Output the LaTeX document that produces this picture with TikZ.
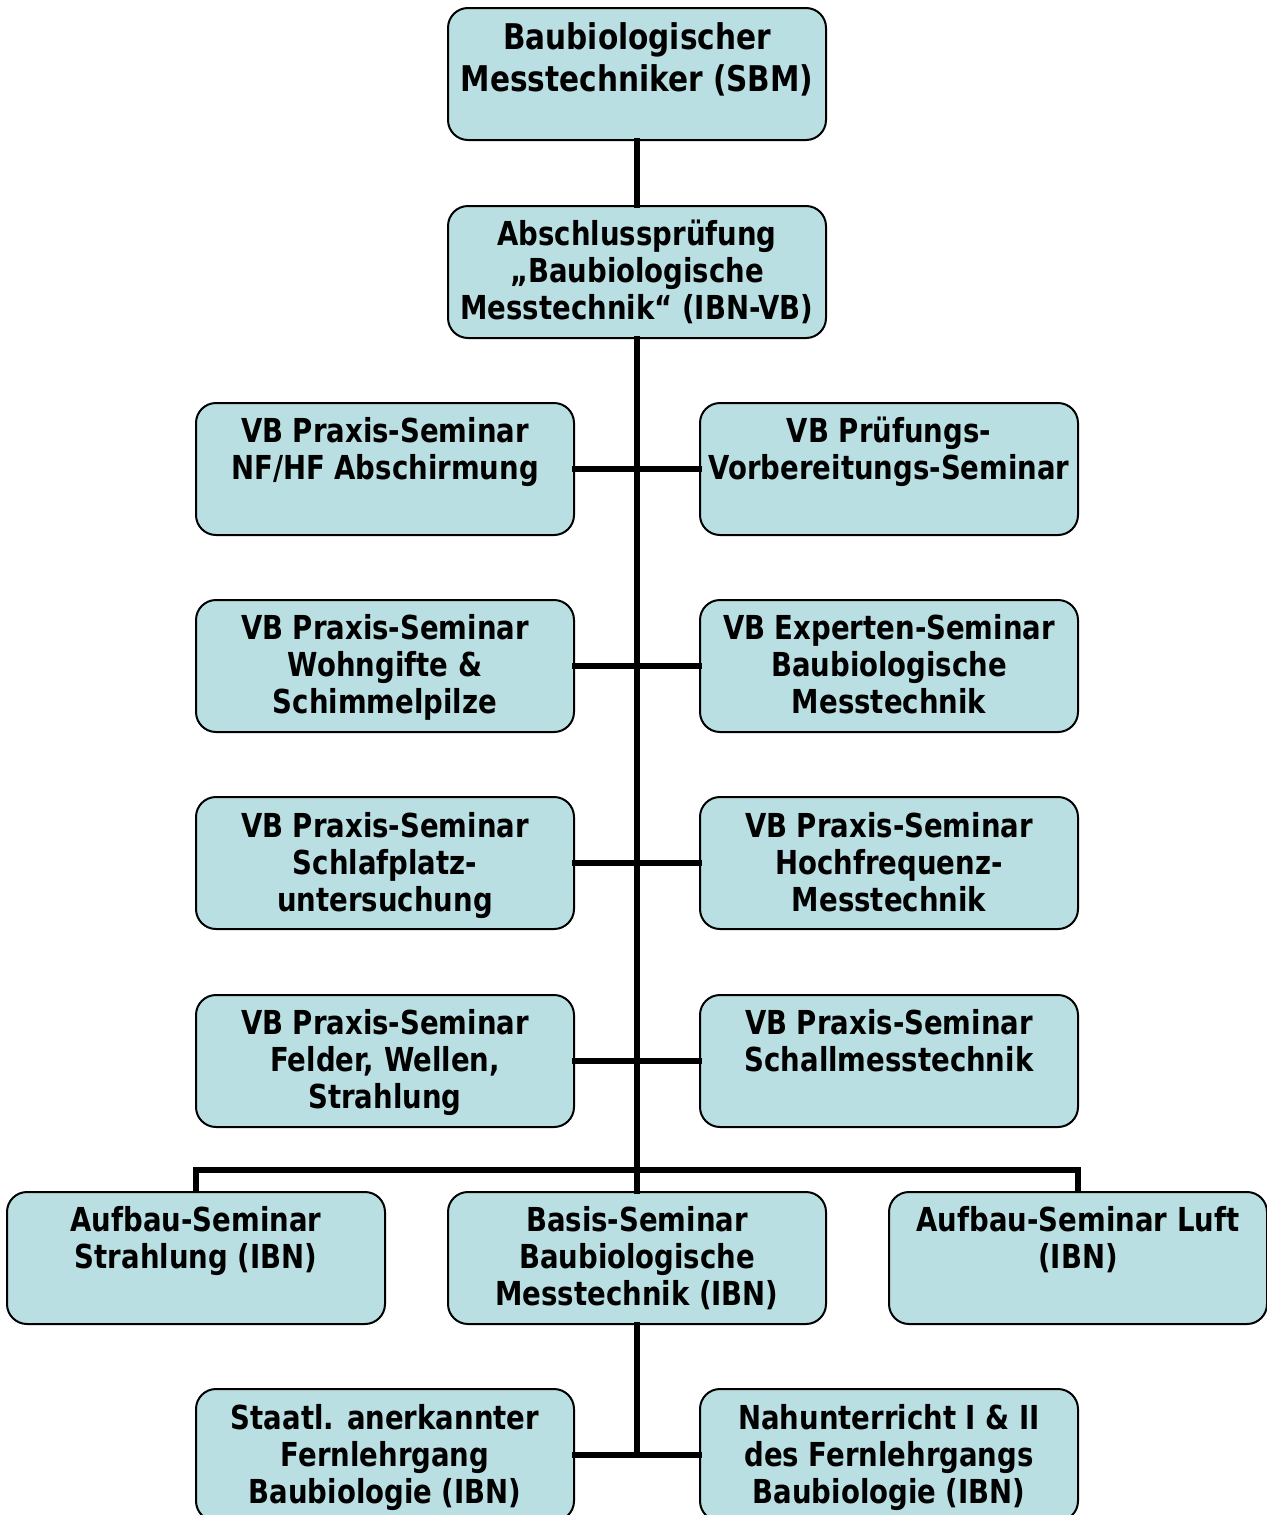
\documentclass[tikz,border=0pt]{standalone}
\usepackage{fontspec}
\setmainfont{DejaVu Sans}[FakeStretch=0.835]
\definecolor{boxfill}{RGB}{185,223,227}
\tikzset{
  box/.style={draw=black, line width=1pt, fill=boxfill, rounded corners=10pt,
    minimum width=189pt, minimum height=66pt, inner sep=0pt},
  lbl/.style={anchor=north, inner sep=0pt, align=center,
    font=\fontsize{16.5pt}{18.5pt}\selectfont\bfseries},
  lbltop/.style={lbl, font=\fontsize{17.7pt}{21pt}\selectfont\bfseries},
  conn/.style={line width=2.7pt, line cap=rect}
}
\begin{document}
\begin{tikzpicture}[x=0.5pt, y=-0.5pt]
\useasboundingbox (0,0) rectangle (1267,1515);
\clip (0,0) rectangle (1267,1515);
% boxes (center x, center y)
\node[box] (b1) at (637,74) {};
\node[lbltop] (t1) at (637,22) {Baubiologischer\\Messtechniker (SBM)};
\node[box] (b2) at (637,272) {};
\node[lbl] (t2) at (637,220) {Abschlussprüfung\\„Baubiologische\\Messtechnik“ (IBN-VB)};
\node[box] (b3) at (385,469) {};
\node[lbl] (t3) at (385,417) {VB Praxis-Seminar\\NF/HF Abschirmung};
\node[box] (b4) at (889,469) {};
\node[lbl] (t4) at (889,417) {VB Prüfungs-\\Vorbereitungs-Seminar};
\node[box] (b5) at (385,666) {};
\node[lbl] (t5) at (385,614) {VB Praxis-Seminar\\Wohngifte \&\\Schimmelpilze};
\node[box] (b6) at (889,666) {};
\node[lbl] (t6) at (889,614) {VB Experten-Seminar\\Baubiologische\\Messtechnik};
\node[box] (b7) at (385,863) {};
\node[lbl] (t7) at (385,812) {VB Praxis-Seminar\\Schlafplatz-\\untersuchung};
\node[box] (b8) at (889,863) {};
\node[lbl] (t8) at (889,812) {VB Praxis-Seminar\\Hochfrequenz-\\Messtechnik};
\node[box] (b9) at (385,1061) {};
\node[lbl] (t9) at (385,1009) {VB Praxis-Seminar\\Felder, Wellen,\\Strahlung};
\node[box] (b10) at (889,1061) {};
\node[lbl] (t10) at (889,1009) {VB Praxis-Seminar\\Schallmesstechnik};
\node[box] (b12) at (196,1258) {};
\node[lbl] (t12) at (196,1206) {Aufbau-Seminar\\Strahlung (IBN)};
\node[box] (b13) at (637,1258) {};
\node[lbl] (t13) at (637,1206) {Basis-Seminar\\Baubiologische\\Messtechnik (IBN)};
\node[box] (b14) at (1078,1258) {};
\node[lbl] (t14) at (1078,1206) {Aufbau-Seminar Luft\\(IBN)};
\node[box] (b15) at (385,1455) {};
\node[lbl] (t15) at (385,1404) {Staatl. anerkannter\\Fernlehrgang\\Baubiologie (IBN)};
\node[box] (b16) at (889,1455) {};
\node[lbl] (t16) at (889,1404) {Nahunterricht I \& II\\des Fernlehrgangs\\Baubiologie (IBN)};
% connectors
\draw[conn] (b1.south) -- (b2.north);
\draw[conn] (b2.south) -- (b13.north);
\draw[conn] (b3.east) -- (b4.west);
\draw[conn] (b5.east) -- (b6.west);
\draw[conn] (b7.east) -- (b8.west);
\draw[conn] (b9.east) -- (b10.west);
\coordinate (bus) at (637,1170);
\draw[conn, line cap=butt] (b12.north) |- (bus) -| (b14.north);
\draw[conn] (b15.east) -- (b16.west);
\draw[conn] (b13.south) -- (b13.south |- b15.east);
\end{tikzpicture}
\end{document}
